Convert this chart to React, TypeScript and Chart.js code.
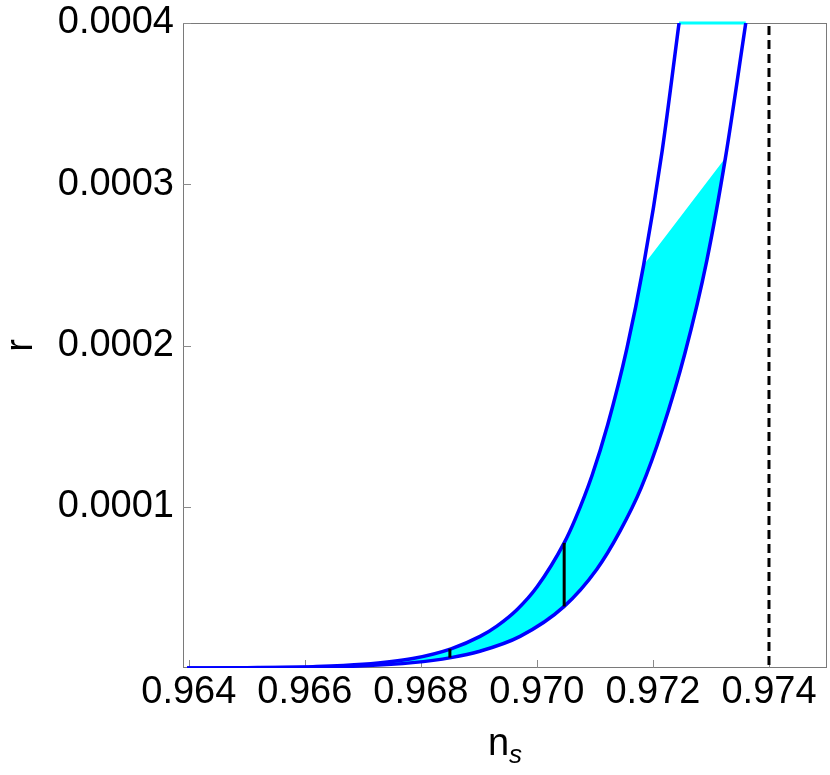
import React, { useEffect, useRef } from 'react';
import { Chart, registerables } from 'chart.js';

Chart.register(...registerables);

// ---- data ----
const xTicks = [0.964, 0.966, 0.968, 0.97, 0.972, 0.974];
const yTicks = [0.0001, 0.0002, 0.0003, 0.0004];

// left (upper) boundary curve
const upperNs = [0.96397, 0.965, 0.96614, 0.967, 0.96786, 0.96852, 0.96902, 0.96931, 0.96966, 0.97, 0.97047, 0.97066, 0.97095, 0.97122, 0.97155, 0.97184, 0.97216, 0.97245];
const upperR = [0, 1.8e-7, 8.1e-7, 2.26e-6, 5.9e-6, 1.19e-5, 1.96e-5, 2.6e-5, 3.63e-5, 5.02e-5, 7.76e-5, 9.23e-5, 1.194e-4, 1.508e-4, 1.98e-4, 2.5e-4, 3.21e-4, 4.0e-4];

// right (lower) boundary curve
const lowerNs = [0.96397, 0.965, 0.966, 0.967, 0.96786, 0.96852, 0.969, 0.96971, 0.97047, 0.97103, 0.97143, 0.9718, 0.97216, 0.97255, 0.97293, 0.97325, 0.9736];
const lowerR = [0, 1.2e-7, 4.0e-7, 1.32e-6, 3.33e-6, 6.45e-6, 1.02e-5, 1.96e-5, 3.82e-5, 6.11e-5, 8.47e-5, 1.12e-4, 1.476e-4, 1.95e-4, 2.53e-4, 3.165e-4, 4.0e-4];

// shaded band: upper curve up to the kink, then straight cut to the lower curve
const bandKinkNs = 0.97184;
const bandCutNs = 0.97325;

// vertical black markers
const markerNs = [0.9685, 0.97047];
const markerLow = [6.4e-6, 3.82e-5];
const markerHigh = [1.19e-5, 7.76e-5];

// dashed vertical line
const dashedNs = 0.974;

const X_MIN = 0.9639;
const X_MAX = 0.975;
const Y_MIN = 0;
const Y_MAX = 0.0004;

const FONT = "'Liberation Sans', Arial, Helvetica, sans-serif";

const pts = (xs: number[], ys: number[]) => xs.map((x, i) => ({ x, y: ys[i] }));

export default function App() {
  const ref = useRef<HTMLCanvasElement | null>(null);

  useEffect(() => {
    const canvas = ref.current;
    if (!canvas) return;

    const upper = pts(upperNs, upperR);
    const lower = pts(lowerNs, lowerR);
    const band = [
      ...upper.filter((p) => p.x <= bandKinkNs),
      ...lower.filter((p) => p.x <= bandCutNs).reverse(),
    ];

    const framePlugin = {
      id: 'frame',
      beforeDatasetsDraw(chart: any) {
        const { ctx, chartArea: a, scales } = chart;
        ctx.save();
        ctx.strokeStyle = '#7a7a7a';
        ctx.lineWidth = 1;
        ctx.strokeRect(a.left + 0.5, a.top + 0.5, a.right - a.left - 1, a.bottom - a.top - 1);
        ctx.strokeStyle = '#8a8a8a';
        for (const t of scales.x.ticks) {
          const px = Math.round(scales.x.getPixelForValue(t.value)) + 0.5;
          ctx.beginPath();
          ctx.moveTo(px, a.bottom);
          ctx.lineTo(px, a.bottom - 8);
          ctx.stroke();
        }
        for (const t of scales.y.ticks) {
          const py = Math.round(scales.y.getPixelForValue(t.value)) + 0.5;
          ctx.beginPath();
          ctx.moveTo(a.left, py);
          ctx.lineTo(a.left + 8, py);
          ctx.stroke();
        }
        ctx.restore();
      },
      afterDraw(chart: any) {
        const { ctx, chartArea: a } = chart;
        ctx.save();
        ctx.fillStyle = '#000';
        // x title: n with subscript s
        const cx = (a.left + a.right) / 2;
        ctx.font = `38px ${FONT}`;
        ctx.textBaseline = 'alphabetic';
        ctx.textAlign = 'left';
        const nW = ctx.measureText('n').width;
        ctx.font = `italic 26px ${FONT}`;
        const sW = ctx.measureText('s').width;
        const startX = cx - (nW + sW) / 2;
        ctx.font = `38px ${FONT}`;
        ctx.fillText('n', startX, 755);
        ctx.font = `italic 26px ${FONT}`;
        ctx.fillText('s', startX + nW, 763);
        // y title
        ctx.translate(32, (a.top + a.bottom) / 2);
        ctx.rotate(-Math.PI / 2);
        ctx.font = `38px ${FONT}`;
        ctx.textAlign = 'center';
        ctx.fillText('r', 0, 0);
        ctx.restore();
      },
    };

    const chart = new Chart(canvas, {
      type: 'scatter',
      data: {
        datasets: [
          {
            label: 'band',
            data: band,
            showLine: true,
            borderWidth: 0,
            borderColor: 'rgba(0,0,0,0)',
            backgroundColor: '#00ffff',
            fill: 'shape',
            pointRadius: 0,
            tension: 0,
            order: 10,
          } as any,
          {
            label: 'top',
            data: [
              { x: upperNs[upperNs.length - 1], y: Y_MAX },
              { x: lowerNs[lowerNs.length - 1], y: Y_MAX },
            ],
            showLine: true,
            borderWidth: 3,
            borderColor: '#00ffff',
            pointRadius: 0,
            clip: 4,
            order: 9,
          },
          {
            label: 'dashed',
            data: [
              { x: dashedNs, y: Y_MAX },
              { x: dashedNs, y: Y_MIN },
            ],
            showLine: true,
            borderWidth: 3,
            borderColor: '#000',
            borderDash: [9, 5],
            borderDashOffset: -3,
            pointRadius: 0,
            order: 5,
          },
          {
            label: 'upper',
            data: upper,
            showLine: true,
            borderWidth: 3.5,
            borderColor: '#0000ff',
            pointRadius: 0,
            cubicInterpolationMode: 'monotone',
            tension: 0.4,
            order: 3,
          },
          {
            label: 'lower',
            data: lower,
            showLine: true,
            borderWidth: 3.5,
            borderColor: '#0000ff',
            pointRadius: 0,
            cubicInterpolationMode: 'monotone',
            tension: 0.4,
            order: 3,
          },
          ...markerNs.map((x, i) => ({
            label: 'marker' + i,
            data: [
              { x, y: markerLow[i] },
              { x, y: markerHigh[i] },
            ],
            showLine: true,
            borderWidth: 3,
            borderColor: '#000',
            pointRadius: 0,
            order: 1,
          })),
        ],
      },
      options: {
        animation: false,
        responsive: false,
        devicePixelRatio: 1,
        layout: { padding: { left: 0, top: 23, right: 3, bottom: 0 } },
        plugins: {
          legend: { display: false },
          tooltip: { enabled: false },
        },
        scales: {
          x: {
            type: 'linear',
            min: X_MIN,
            max: X_MAX,
            grid: { display: false, drawTicks: false },
            border: { display: false },
            afterBuildTicks: (s: any) => {
              s.ticks = xTicks.map((v) => ({ value: v }));
            },
            afterFit: (s: any) => {
              s.height = 107;
              s.paddingLeft = 0;
              s.paddingRight = 0;
            },
            ticks: {
              autoSkip: false,
              maxRotation: 0,
              padding: 2,
              color: '#000',
              font: { family: FONT, size: 38 },
              callback: (v: any) => Number(v).toFixed(3),
            },
          },
          y: {
            type: 'linear',
            min: Y_MIN,
            max: Y_MAX,
            grid: { display: false, drawTicks: false },
            border: { display: false },
            afterBuildTicks: (s: any) => {
              s.ticks = yTicks.map((v) => ({ value: v }));
            },
            afterFit: (s: any) => {
              s.width = 183;
              s.paddingTop = 0;
              s.paddingBottom = 0;
            },
            ticks: {
              autoSkip: false,
              padding: 9,
              color: '#000',
              font: { family: FONT, size: 38 },
              callback: (v: any) => Number(v).toFixed(4),
            },
          },
        },
      },
      plugins: [framePlugin],
    } as any);

    return () => chart.destroy();
  }, []);

  return (
    <div style={{ position: 'fixed', left: 0, top: 0, width: 830, height: 775, background: '#fff' }}>
      <canvas ref={ref} width={830} height={775} style={{ width: 830, height: 775, display: 'block' }} />
    </div>
  );
}
